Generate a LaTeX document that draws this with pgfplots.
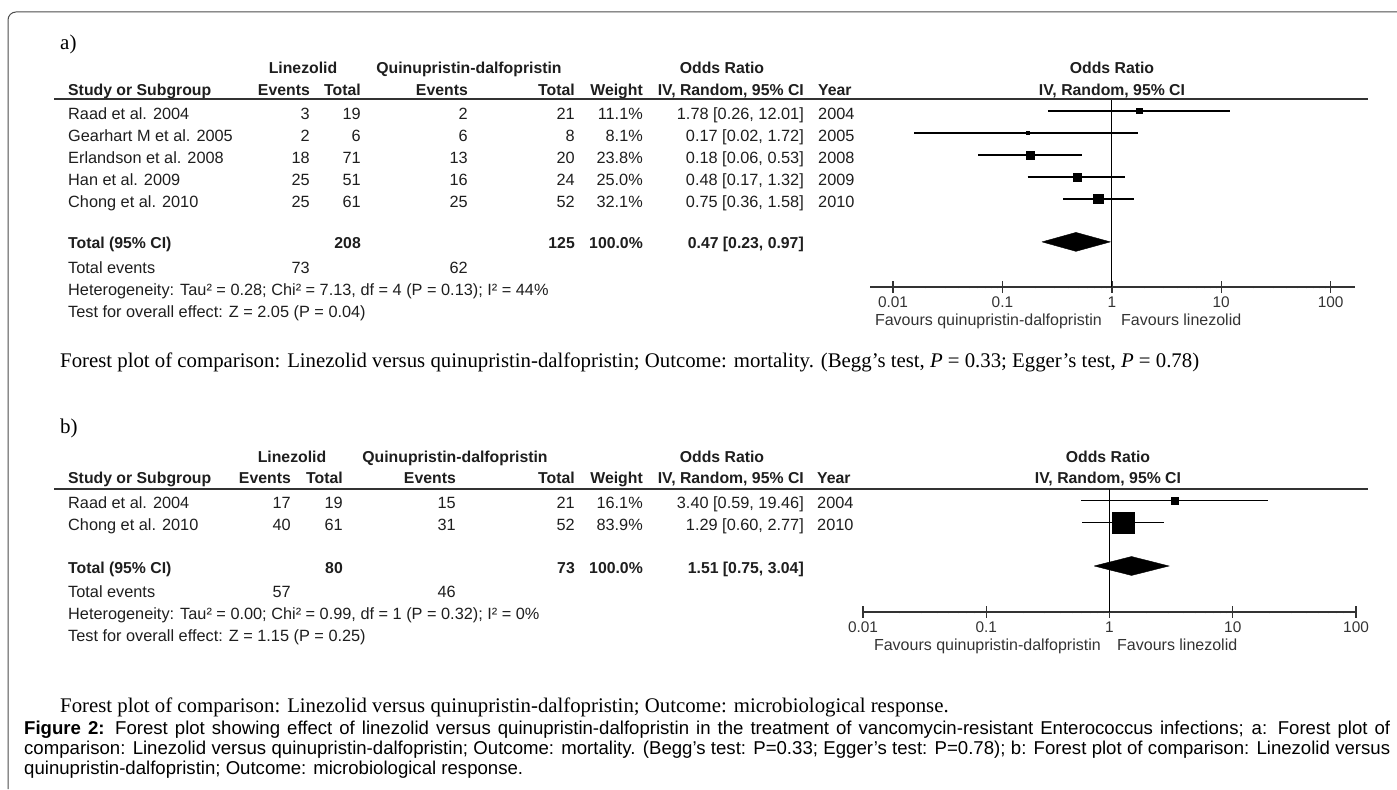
\documentclass[border=0pt]{standalone}
\usepackage{fontspec}
\setmainfont{Liberation Serif}
\newfontfamily\arial{Liberation Sans}
\usepackage{pgfplots}
\pgfplotsset{compat=1.18}
\definecolor{tcol}{HTML}{1E1E1E}
\definecolor{gcol}{HTML}{333333}
\newcommand\tabfont{\arial\fontsize{16.3bp}{18bp}\selectfont}
\newcommand\tabbold{\arial\bfseries\fontsize{15.8bp}{18bp}\selectfont}
\newcommand\tickfont{\arial\fontsize{15.4bp}{17bp}\selectfont}
\newcommand\favfont{\arial\fontsize{16bp}{18bp}\selectfont}
\newcommand\capfont{\fontsize{20.8bp}{23bp}\selectfont}
\newcommand\TL[3]{\node[anchor=base west,inner sep=0pt,text=tcol] at (#1,{783-(#2)}) {#3};}
\newcommand\TR[3]{\node[anchor=base east,inner sep=0pt,text=tcol] at (#1,{783-(#2)}) {#3};}
\newcommand\TC[3]{\node[anchor=base,inner sep=0pt,text=tcol] at (#1,{783-(#2)}) {#3};}
\newcommand\Row[9]{\TL{68}{#1}{#2}\TR{\cA}{#1}{#3}\TR{\cB}{#1}{#4}\TR{\cC}{#1}{#5}\TR{575}{#1}{#6}\TR{643}{#1}{#7}\TR{804}{#1}{#8}\TL{\cY}{#1}{#9}}
\begin{document}
\begin{tikzpicture}
\begin{scope}[x=1bp,y=1bp]
\useasboundingbox (0,0) rectangle (1397,789);
\draw[line width=1bp,black!70] (8,0) -- (8,769) arc[start angle=180,end angle=90,radius=8] -- (1397,777);

% ================= panel a =================
\node[anchor=base west,inner sep=0pt,font=\fontsize{21bp}{24bp}\selectfont] at (60,{789-50}) {a)};
\begin{scope}[every node/.append style={font=\tabbold}]
\TC{303}{68}{Linezolid}
\TC{469}{68}{Quinupristin-dalfopristin}
\TC{722}{68}{Odds Ratio}
\TC{1112}{68}{Odds Ratio}
\TL{68}{90}{Study or Subgroup}
\TR{310}{90}{Events}
\TR{361}{90}{Total}
\TR{468}{90}{Events}
\TR{575}{90}{Total}
\TR{643}{90}{Weight}
\TR{804}{90}{IV, Random, 95\% CI}
\TL{818}{90}{Year}
\TC{1112}{90}{IV, Random, 95\% CI}
\TL{68}{243}{Total (95\% CI)}
\TR{361}{243}{208}
\TR{575}{243}{125}
\TR{643}{243}{100.0\%}
\TR{804}{243}{0.47 [0.23, 0.97]}
\end{scope}
\draw[line width=2bp,gcol] (54,{789-99.5}) -- (1368,{789-99.5});
\begin{scope}[every node/.append style={font=\tabfont}]
\def\cA{310}\def\cB{361}\def\cC{468}\def\cY{818}
\Row{114}{Raad et al. 2004}{3}{19}{2}{21}{11.1\%}{1.78 [0.26, 12.01]}{2004}
\Row{136}{Gearhart M et al. 2005}{2}{6}{6}{8}{8.1\%}{0.17 [0.02, 1.72]}{2005}
\Row{158}{Erlandson et al. 2008}{18}{71}{13}{20}{23.8\%}{0.18 [0.06, 0.53]}{2008}
\Row{180}{Han et al. 2009}{25}{51}{16}{24}{25.0\%}{0.48 [0.17, 1.32]}{2009}
\Row{202}{Chong et al. 2010}{25}{61}{25}{52}{32.1\%}{0.75 [0.36, 1.58]}{2010}
\TL{68}{268}{Total events}
\TR{310}{268}{73}
\TR{468}{268}{62}
\TL{68}{290}{Heterogeneity: Tau² = 0.28; Chi² = 7.13, df = 4 (P = 0.13); I² = 44\%}
\TL{68}{312}{Test for overall effect: Z = 2.05 (P = 0.04)}
\end{scope}
\begin{scope}[every node/.append style={font=\favfont}]
\node[anchor=base east,inner sep=0pt,text=gcol] at (1102,{783-320}) {Favours quinupristin-dalfopristin};
\node[anchor=base west,inner sep=0pt,text=gcol] at (1121,{783-320}) {Favours linezolid};
\end{scope}
\node[anchor=base west,inner sep=0pt,font=\capfont] at (60,{789-368})
  {Forest plot of comparison: Linezolid versus quinupristin-dalfopristin; Outcome: mortality. (Begg’s test, \textit{P} = 0.33; Egger’s test, \textit{P} = 0.78)};

% ================= panel b =================
\node[anchor=base west,inner sep=0pt,font=\fontsize{21bp}{24bp}\selectfont] at (60,{789-434}) {b)};
\begin{scope}[every node/.append style={font=\tabbold}]
\TC{292}{457}{Linezolid}
\TC{455}{457}{Quinupristin-dalfopristin}
\TC{722}{457}{Odds Ratio}
\TC{1108}{457}{Odds Ratio}
\TL{68}{478}{Study or Subgroup}
\TR{291}{478}{Events}
\TR{343}{478}{Total}
\TR{456}{478}{Events}
\TR{575}{478}{Total}
\TR{643}{478}{Weight}
\TR{804}{478}{IV, Random, 95\% CI}
\TL{817}{478}{Year}
\TC{1108}{478}{IV, Random, 95\% CI}
\TL{68}{568}{Total (95\% CI)}
\TR{343}{568}{80}
\TR{575}{568}{73}
\TR{643}{568}{100.0\%}
\TR{804}{568}{1.51 [0.75, 3.04]}
\end{scope}
\draw[line width=2bp,gcol] (54,{789-489.5}) -- (1368,{789-489.5});
\begin{scope}[every node/.append style={font=\tabfont}]
\def\cA{291}\def\cB{343}\def\cC{456}\def\cY{817}
\Row{503}{Raad et al. 2004}{17}{19}{15}{21}{16.1\%}{3.40 [0.59, 19.46]}{2004}
\Row{525}{Chong et al. 2010}{40}{61}{31}{52}{83.9\%}{1.29 [0.60, 2.77]}{2010}
\TL{68}{592}{Total events}
\TR{291}{592}{57}
\TR{456}{592}{46}
\TL{68}{614}{Heterogeneity: Tau² = 0.00; Chi² = 0.99, df = 1 (P = 0.32); I² = 0\%}
\TL{68}{636}{Test for overall effect: Z = 1.15 (P = 0.25)}
\end{scope}
\begin{scope}[every node/.append style={font=\favfont}]
\node[anchor=base east,inner sep=0pt,text=gcol] at (1101,{783-645}) {Favours quinupristin-dalfopristin};
\node[anchor=base west,inner sep=0pt,text=gcol] at (1117,{783-645}) {Favours linezolid};
\end{scope}
\node[anchor=base west,inner sep=0pt,font=\capfont] at (60,{789-712})
  {Forest plot of comparison: Linezolid versus quinupristin-dalfopristin; Outcome: microbiological response.};

\node[anchor=base west,inner sep=0pt,font=\arial\fontsize{18.6bp}{20bp}\selectfont] at (24,{789-734})
  {\parbox[t]{1366bp}{\fontsize{18.6bp}{20bp}\selectfont\emergencystretch=3em\hbadness=10000\hfuzz=20bp\parindent=0pt
  \textbf{Figure 2:} Forest plot showing effect of linezolid versus quinupristin-dalfopristin in the treatment of vancomycin-resistant Enterococcus infections; a: Forest plot of\linebreak
  comparison: Linezolid versus quinupristin-dalfopristin; Outcome: mortality. (Begg’s test: P=0.33; Egger’s test: P=0.78); b: Forest plot of comparison: Linezolid versus\linebreak
  quinupristin-dalfopristin; Outcome: microbiological response.}};
\end{scope}

\begin{axis}[at={(870bp,502bp)}, anchor=south west,
  scale only axis, xmode=log, clip=false,
  axis x line*=bottom, axis y line=none,
  axis line style={line width=2bp, draw=gcol},
  xtick={0.01,0.1,1,10,100}, xticklabels={0.01,0.1,1,10,100},
  tick align=center, major tick length=12bp,
  xtick style={line width=1.4bp, draw=gcol},
  xticklabel style={font=\tickfont, text=gcol, anchor=base, inner sep=0pt, yshift=-15bp},
  width=485bp, height=187bp, xmin=0.006163, xmax=167.2, ymin=-9, ymax=-0.5]
\addplot[line width=1.3bp, black, no markers] coordinates {(1,-0.5) (1,-9)};
\addplot[line width=1.5bp, black, no markers] coordinates {(0.26,-1) (12.01,-1)};
\addplot[black, only marks, mark=square*, mark size=2.6bp] coordinates {(1.78,-1)};
\addplot[line width=1.5bp, black, no markers] coordinates {(0.0157,-2) (1.72,-2)};
\addplot[black, only marks, mark=square*, mark size=1.7bp] coordinates {(0.17,-2)};
\addplot[line width=1.5bp, black, no markers] coordinates {(0.06,-3) (0.53,-3)};
\addplot[black, only marks, mark=square*, mark size=4.2bp] coordinates {(0.18,-3)};
\addplot[line width=1.5bp, black, no markers] coordinates {(0.17,-4) (1.32,-4)};
\addplot[black, only marks, mark=square*, mark size=4.1bp] coordinates {(0.48,-4)};
\addplot[line width=1.5bp, black, no markers] coordinates {(0.36,-5) (1.58,-5)};
\addplot[black, only marks, mark=square*, mark size=4.7bp] coordinates {(0.75,-5)};
\addplot[fill=black, draw=black, no markers] coordinates {(0.23,-6.95) (0.47,-6.52) (0.97,-6.95) (0.47,-7.38) (0.23,-6.95)};
\end{axis}

\begin{axis}[at={(863bp,177bp)}, anchor=south west,
  scale only axis, xmode=log, clip=false,
  axis x line*=bottom, axis y line=none,
  axis line style={line width=2bp, draw=gcol},
  xtick={0.01,0.1,1,10,100}, xticklabels={0.01,0.1,1,10,100},
  tick align=center, major tick length=12bp,
  xtick style={line width=1.4bp, draw=gcol},
  xticklabel style={font=\tickfont, text=gcol, anchor=base, inner sep=0pt, yshift=-15bp},
  width=493bp, height=122.5bp, xmin=0.01, xmax=100, ymin=-6.068, ymax=-0.5]
\addplot[line width=1.3bp, black, no markers] coordinates {(1,-0.5) (1,-6.068)};
\addplot[line width=1.5bp, black, no markers] coordinates {(0.59,-1) (19.46,-1)};
\addplot[black, only marks, mark=square*, mark size=3.5bp] coordinates {(3.40,-1)};
\addplot[line width=1.5bp, black, no markers] coordinates {(0.60,-2) (2.77,-2)};
\addplot[black, only marks, mark=square*, mark size=10.6bp] coordinates {(1.29,-2)};
\addplot[fill=black, draw=black, no markers] coordinates {(0.75,-3.977) (1.51,-3.547) (3.04,-3.977) (1.51,-4.407) (0.75,-3.977)};
\end{axis}
\end{tikzpicture}
\end{document}
